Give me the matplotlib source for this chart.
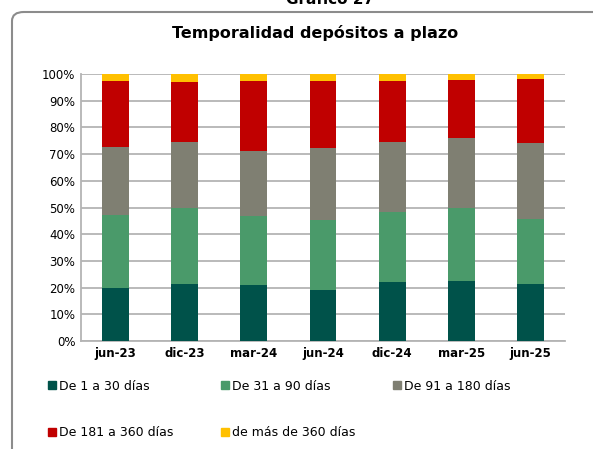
import matplotlib.pyplot as plt
import numpy as np
from matplotlib.patches import FancyBboxPatch, Patch

# Periods and shares (%) by term bucket
periods = ['jun-23', 'dic-23', 'mar-24', 'jun-24', 'dic-24', 'mar-25', 'jun-25']
d1_30 = [19.7, 21.3, 20.8, 19.1, 22.2, 22.5, 21.2]
d31_90 = [27.5, 28.7, 26.1, 26.2, 26.0, 27.4, 24.4]
d91_180 = [25.6, 24.6, 24.3, 27.1, 26.4, 26.0, 28.4]
d181_360 = [24.7, 22.5, 26.3, 25.1, 22.6, 21.8, 24.1]
d360_plus = [2.5, 2.9, 2.5, 2.5, 2.8, 2.3, 1.9]

series = [d1_30, d31_90, d91_180, d181_360, d360_plus]
labels = ['De 1 a 30 días', 'De 31 a 90 días', 'De 91 a 180 días',
          'De 181 a 360 días', 'de más de 360 días']
colors = ['#00524A', '#4A9A6A', '#7F7F72', '#C00000', '#FFC000']

W, H = 593, 449
fig = plt.figure(figsize=(W / 100, H / 100), dpi=100)

# rounded frame around the chart
frame = FancyBboxPatch((12 / W, -20 / H), 620 / W, 457 / H,
                       boxstyle='round,pad=0,rounding_size=0.02',
                       transform=fig.transFigure, fill=False,
                       edgecolor='#8C8C8C', linewidth=1.5)
fig.patches.append(frame)

fig.text(330 / W, 1.0, 'Gráfico 27', ha='center', va='center',
         fontsize=11, fontweight='bold')
fig.text(315 / W, 1 - 33 / H, 'Temporalidad depósitos a plazo', ha='center',
         va='center', fontsize=11.5, fontweight='bold')

ax = fig.add_axes([81 / W, 1 - 341 / H, (565 - 81) / W, (341 - 74) / H])
x = np.arange(len(periods))
bottom = np.zeros(len(periods))
for vals, lab, col in zip(series, labels, colors):
    ax.bar(x, vals, 0.39, bottom=bottom, color=col, label=lab, zorder=3)
    bottom += np.array(vals)

ax.set_xlim(-0.5, len(periods) - 0.5)
ax.set_ylim(0, 100)
ax.set_yticks(range(0, 101, 10))
ax.set_yticklabels([f'{v}%' for v in range(0, 101, 10)], fontsize=8.5)
ax.set_xticks(x)
ax.set_xticklabels(periods, fontsize=8.5, fontweight='bold')
ax.tick_params(length=0, pad=4)
ax.grid(axis='y', color='#B4B4B4', linewidth=1.3, zorder=0)
for s in ['top', 'right']:
    ax.spines[s].set_visible(False)
for s in ['left', 'bottom']:
    ax.spines[s].set_color('#B4B4B4')
    ax.spines[s].set_linewidth(1.3)

# legend entries laid out in a 3 + 2 grid
legend_pos = [(48, 386), (221, 386), (393, 386), (48, 433), (221, 433)]
for (px, py), c, l in zip(legend_pos, colors, labels):
    fig.legend(handles=[Patch(color=c, label=l)], loc='center left',
               bbox_to_anchor=(px / W, 1 - py / H), frameon=False,
               fontsize=9, handlelength=0.6, handleheight=0.6,
               handletextpad=0.3, borderaxespad=0, borderpad=0)

fig.savefig('out.png', dpi=100)
